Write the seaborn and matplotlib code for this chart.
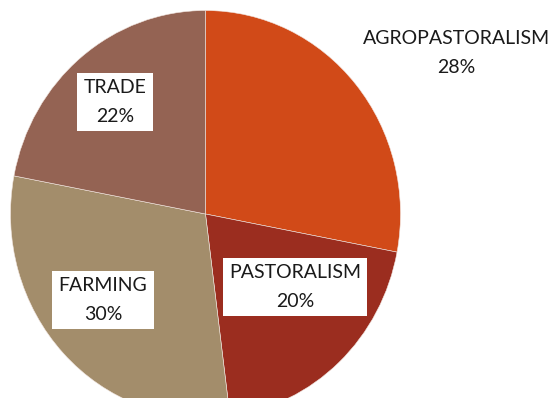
import matplotlib
matplotlib.use("Agg")
import matplotlib.pyplot as plt
import seaborn as sns

sns.set_theme(style="white")
plt.rcParams["font.family"] = ["Lato", "DejaVu Sans"]

# Livelihood shares (percent)
activities = ["AGROPASTORALISM", "PASTORALISM", "FARMING", "TRADE"]
shares = [28, 20, 30, 22]
slice_colors = ["#D14A18", "#9B2D1F", "#A38D6B", "#946353"]

# label anchor points in data units (pie radius = 1)
label_xy = [(1.285, 0.79), (0.459, -0.359), (-0.526, -0.423), (-0.464, 0.550)]
boxed = [False, True, True, True]

fig = plt.figure(figsize=(5.51, 3.98), dpi=100)
ax = fig.add_axes([0, 0, 1, 1])

ax.pie(shares, colors=slice_colors, startangle=90, counterclock=False,
       wedgeprops=dict(edgecolor="#f2e6e0", linewidth=0.4))

# slightly taller than wide, as in the original layout
ax.set_aspect("auto")
ax.set_xlim(-205.5 / 195, (551 - 205.5) / 195)
ax.set_ylim(-184 / 203.5, 214 / 203.5)
ax.axis("off")

for name, val, (x, y), has_box in zip(activities, shares, label_xy, boxed):
    kw = dict(ha="center", va="center", fontsize=14, color="#1a1a1a",
              linespacing=1.85)
    if has_box:
        kw["bbox"] = dict(boxstyle="square,pad=0.32", fc="white", ec="none")
    ax.text(x, y, f"{name}\n{val}%", **kw)

fig.savefig("out.png", dpi=100, facecolor="white")
